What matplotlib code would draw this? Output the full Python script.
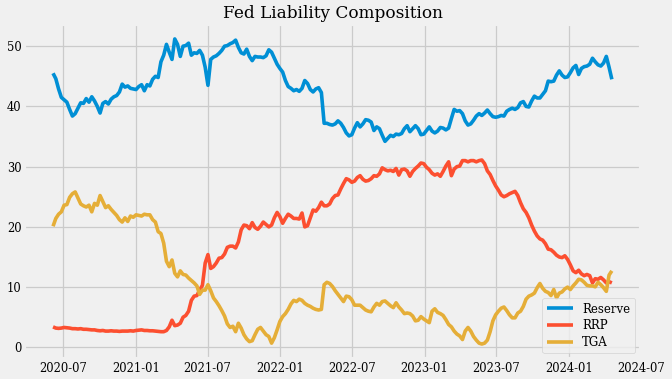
import pandas as pd
import matplotlib
matplotlib.use("Agg")
import matplotlib.pyplot as plt
import matplotlib.dates as mdates

# weekly observations, % of total Fed liabilities
dates = pd.date_range("2020-06-05", periods=203, freq="7D")

reserve = [
    45.5, 44.6, 42.9, 41.5, 41.1, 40.7, 39.5, 38.4, 38.8, 39.7,
    40.6, 40.5, 41.3, 40.7, 41.6, 40.9, 40.0, 38.9, 40.5, 40.8,
    40.4, 41.2, 41.6, 41.8, 42.4, 43.7, 43.2, 43.4, 43.0, 42.9,
    42.8, 43.3, 43.6, 42.6, 43.6, 43.4, 44.5, 45.0, 44.8, 47.4,
    48.5, 50.3, 49.0, 47.8, 51.2, 50.3, 48.3, 50.0, 50.1, 50.5,
    48.5, 48.9, 48.8, 49.3, 48.5, 46.5, 43.5, 47.8, 48.2, 48.4,
    48.8, 49.3, 50.0, 50.1, 50.4, 50.6, 51.0, 49.8, 48.9, 48.7,
    49.5, 48.3, 47.6, 48.3, 48.2, 48.2, 48.1, 48.4, 49.4, 49.0,
    48.0, 47.0, 46.3, 45.7, 44.3, 43.3, 43.0, 42.6, 42.8, 42.5,
    43.0, 44.3, 43.8, 42.8, 42.4, 42.9, 43.1, 42.3, 37.2, 37.2,
    37.0, 36.9, 37.1, 37.6, 37.2, 36.5, 35.6, 35.1, 35.3, 36.4,
    37.3, 36.6, 37.1, 37.8, 37.7, 37.4, 36.0, 36.6, 36.3, 35.2,
    34.2, 34.7, 35.2, 35.0, 35.4, 35.3, 35.5, 36.3, 36.8, 35.8,
    36.3, 36.8, 36.3, 35.3, 35.4, 36.0, 36.6, 35.9, 35.6, 35.9,
    36.5, 36.4, 36.1, 36.4, 38.0, 39.5, 39.2, 39.3, 38.8, 37.6,
    36.9, 37.1, 37.7, 38.4, 38.8, 38.5, 38.9, 39.4, 38.8, 38.3,
    38.2, 38.3, 38.5, 38.4, 39.2, 39.5, 39.7, 39.5, 39.8, 40.6,
    40.8, 40.0, 39.9, 40.9, 41.7, 41.4, 41.4, 42.0, 42.6, 44.2,
    44.1, 44.2, 45.2, 45.9, 45.2, 44.8, 44.9, 45.6, 46.4, 46.8,
    45.3, 46.3, 46.6, 46.7, 47.0, 48.0, 47.4, 46.9, 46.7, 47.2,
    48.3, 46.5, 44.5,
]

rrp = [
    3.4, 3.2, 3.15, 3.2, 3.3, 3.25, 3.2, 3.1, 3.1, 3.05,
    3.1, 3.0, 3.0, 2.95, 2.9, 2.9, 2.8, 2.75, 2.8, 2.7,
    2.7, 2.75, 2.7, 2.7, 2.65, 2.7, 2.7, 2.7, 2.75, 2.7,
    2.8, 2.85, 2.9, 2.8, 2.8, 2.75, 2.75, 2.7, 2.65, 2.6,
    2.6, 2.8, 3.4, 4.5, 3.6, 3.7, 4.0, 5.0, 5.3, 6.0,
    7.8, 8.5, 8.6, 9.5, 10.3, 14.0, 15.4, 13.1, 13.4, 14.0,
    14.8, 14.9, 15.5, 16.6, 16.8, 16.8, 16.5, 17.5, 19.5, 20.3,
    20.2, 19.7, 20.7, 19.9, 19.6, 20.1, 20.8, 20.4, 20.0, 20.3,
    21.5, 22.4, 21.7, 20.6, 21.4, 22.1, 21.8, 21.4, 21.4, 21.3,
    22.3, 20.0, 20.2, 21.5, 22.8, 22.6, 23.2, 24.1, 23.5, 23.5,
    23.8, 24.7, 25.2, 25.3, 26.3, 27.2, 28.0, 27.8, 27.4, 27.6,
    28.2, 28.5, 27.9, 27.6, 27.7, 28.0, 28.5, 28.4, 28.8, 29.8,
    29.5, 29.3, 29.4, 29.2, 29.7, 28.6, 29.5, 29.6, 29.3, 28.4,
    29.2, 29.7, 30.1, 30.6, 30.5, 29.9, 29.5, 28.9, 28.6, 28.8,
    28.4, 29.2, 30.1, 30.8, 28.5, 29.6, 30.0, 30.1, 31.0, 31.0,
    30.8, 31.0, 31.0, 30.8, 31.0, 31.1, 30.5, 29.3, 28.7, 27.7,
    26.8, 26.1, 25.3, 25.0, 25.2, 25.5, 25.7, 25.9, 25.2, 24.0,
    23.0, 22.4, 21.5, 20.3, 19.3, 18.5, 18.0, 17.8, 17.2, 16.3,
    16.2, 15.8, 15.3, 15.0, 14.9, 15.2, 14.6, 13.7, 12.7, 12.4,
    12.8, 12.2, 11.9, 12.1, 11.9, 10.7, 11.4, 11.3, 11.6, 11.2,
    10.7, 10.9, 10.7,
]

tga = [
    20.1, 21.4, 22.1, 22.5, 23.6, 23.7, 24.9, 25.5, 25.8, 24.8,
    23.8, 23.5, 23.3, 23.6, 22.5, 23.9, 23.6, 25.2, 24.2, 23.2,
    23.5, 22.9, 22.4, 21.9, 21.2, 20.8, 21.5, 20.9, 21.8, 21.6,
    22.0, 21.9, 21.8, 22.1, 22.0, 22.0, 21.2, 20.8, 19.2, 18.9,
    17.3, 14.3, 13.4, 14.5, 12.3, 11.7, 12.7, 12.1, 12.0, 11.5,
    11.1, 10.7, 10.2, 8.8, 9.5, 9.5, 10.4, 9.4, 8.2, 7.6,
    6.9, 6.1, 5.2, 3.9, 3.3, 3.5, 2.6, 4.0, 3.2, 2.1,
    1.4, 0.95, 1.1, 2.1, 3.0, 3.3, 2.7, 2.1, 1.8, 0.7,
    1.6, 2.9, 4.3, 5.1, 5.6, 6.3, 7.2, 7.8, 7.6, 8.0,
    7.8, 7.3, 7.0, 6.8, 6.5, 6.3, 6.2, 6.3, 10.4, 10.8,
    10.6, 10.1, 9.4, 8.8, 8.2, 7.6, 8.5, 8.4, 7.9, 7.0,
    7.0, 7.0, 6.6, 6.2, 6.0, 5.9, 6.7, 7.3, 7.0, 7.6,
    7.7, 7.3, 6.9, 6.6, 7.4, 6.7, 6.2, 5.6, 5.7, 5.6,
    5.2, 4.4, 4.5, 5.1, 4.7, 4.4, 4.1, 6.0, 6.4, 5.8,
    5.6, 5.3, 4.6, 3.8, 3.4, 2.7, 2.2, 1.9, 1.3, 2.7,
    3.3, 2.7, 1.8, 1.2, 0.7, 0.55, 0.7, 1.2, 2.6, 4.4,
    5.4, 6.0, 6.5, 6.7, 6.1, 5.4, 4.9, 4.9, 5.7, 6.0,
    6.8, 8.0, 8.5, 8.7, 9.0, 9.9, 10.6, 9.8, 9.3, 9.1,
    8.6, 9.6, 8.2, 9.0, 9.2, 9.7, 10.0, 9.6, 10.2, 10.7,
    11.3, 11.2, 10.8, 10.3, 10.2, 10.2, 10.05, 10.8, 10.4, 9.9,
    9.3, 12.0, 12.7,
]

plt.style.use("fivethirtyeight")
plt.rcParams["font.family"] = "DejaVu Serif"

fig, ax = plt.subplots(figsize=(6.72, 3.79), dpi=100)
fig.patch.set_facecolor("#f0f0f0")
fig.subplots_adjust(left=0.036, right=0.954, top=0.9375, bottom=0.052)

ax.plot(dates, reserve, label="Reserve", linewidth=2.6)
ax.plot(dates, rrp, label="RRP", linewidth=2.6)
ax.plot(dates, tga, label="TGA", linewidth=2.6)

ax.set_title("Fed Liability Composition", fontsize=12.2, pad=4)
ax.set_xlim(pd.Timestamp("2020-03-24"), pd.Timestamp("2024-07-02"))
ax.xaxis.set_major_locator(mdates.MonthLocator(bymonth=[1, 7]))
ax.xaxis.set_major_formatter(mdates.DateFormatter("%Y-%m"))
ax.tick_params(axis="both", labelsize=8.3, pad=2)
ax.grid(True, linewidth=0.9)

ax.legend(loc="lower right", fontsize=8.5, handlelength=2.2, borderpad=0.4,
          labelspacing=0.3)

fig.savefig("out.png", dpi=100, facecolor=fig.get_facecolor())
